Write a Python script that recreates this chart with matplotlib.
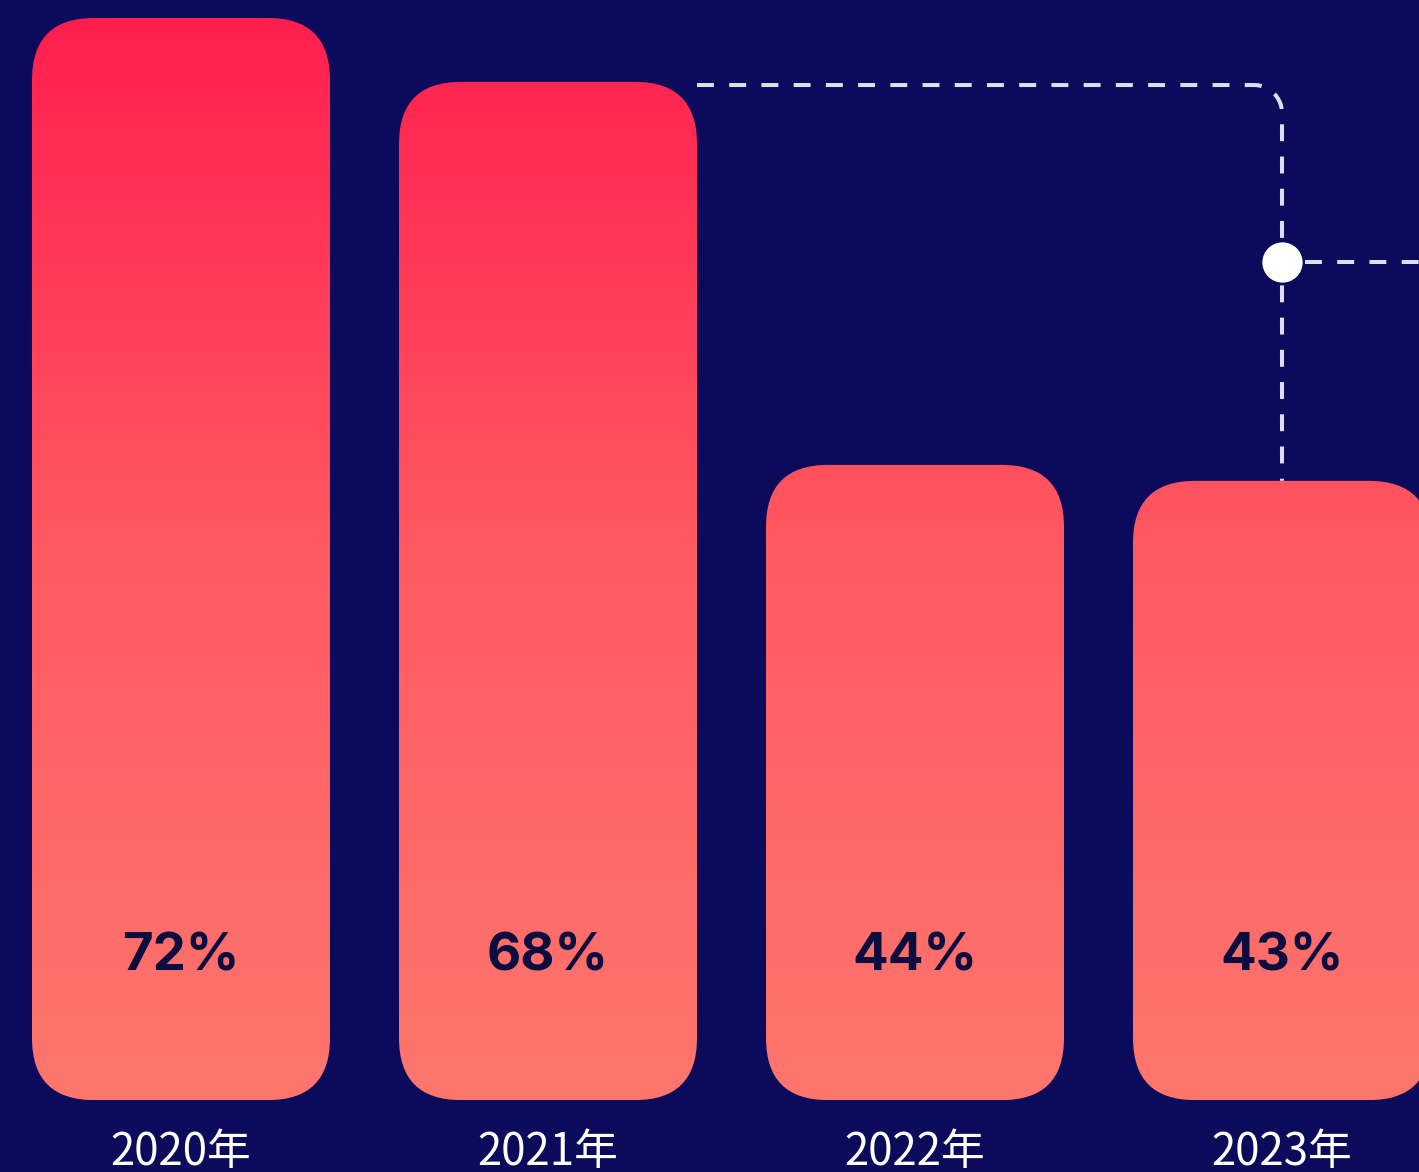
import numpy as np
import matplotlib.pyplot as plt
from matplotlib.patches import FancyBboxPatch
from matplotlib.colors import LinearSegmentedColormap

years = ['2020年', '2021年', '2022年', '2023年']
values = [72, 68, 44, 43]
labels = ['72%', '68%', '44%', '43%']

BG = '#0c0a5a'
TEXT_DARK = '#0b0c40'
DASH = '#dcdfee'

W, H, DPI = 1419, 1172, 100
base = 4.2            # value where the bars sit
px_per_unit = 15.96   # vertical scale, pixels per percentage point
px_per_cat = 367.0    # horizontal distance between bar centers
bar_w = 298 / px_per_cat
radius_px = 62        # quadratic corners read tighter than arcs, so go a bit larger

fig = plt.figure(figsize=(W / DPI, H / DPI), dpi=DPI, facecolor=BG)
ax = fig.add_axes([0, 0, 1, 1])
ax.set_facecolor(BG)
x_lo = -181 / px_per_cat
x_hi = x_lo + W / px_per_cat
y_top = max(values) + 18 / px_per_unit
ax.axis('off')

# vertical gradient shared by every bar: red at the top, salmon at the base
cmap = LinearSegmentedColormap.from_list('bar', ['#ff1f4f', '#ff5a62', '#fd766d'])
grad = np.linspace(0, 1, 256).reshape(-1, 1)
aspect = px_per_cat / px_per_unit
r = radius_px / px_per_cat

for i, (v, lab, yr) in enumerate(zip(values, labels, years)):
    patch = FancyBboxPatch((i - bar_w / 2, base), bar_w, v - base,
                           boxstyle=f'round,pad=0,rounding_size={r}',
                           mutation_aspect=aspect,
                           facecolor='none', edgecolor='none')
    ax.add_patch(patch)
    im = ax.imshow(grad, cmap=cmap, aspect='auto', interpolation='bilinear',
                   origin='upper',
                   extent=(i - bar_w / 2, i + bar_w / 2, base, max(values)),
                   zorder=1)
    im.set_clip_path(patch)
    ax.annotate(lab, xy=(i, base), xytext=(0, 130), textcoords='offset pixels',
                ha='center', va='baseline', fontsize=38, fontweight='bold',
                family=['Inter', 'DejaVu Sans'], color=TEXT_DARK, zorder=3)
    ax.annotate(yr, xy=(i, base), xytext=(0, -65), textcoords='offset pixels',
                ha='center', va='baseline', fontsize=31.5,
                family=['Noto Sans CJK SC', 'DejaVu Sans'], color='white',
                zorder=3)

ax.set_xlim(x_lo, x_hi)
ax.set_ylim(y_top - H / px_per_unit, y_top)

# dashed connector from the 2021 bar over to the 2023 bar
line_y = values[1] - 0.2
x_start = 1 + bar_w / 2
x_end = 3
cr_x = 28 / px_per_cat
cr_y = 28 / px_per_unit
t = np.linspace(np.pi / 2, 0, 20)
arc_x = (x_end - cr_x) + cr_x * np.cos(t)
arc_y = (line_y - cr_y) + cr_y * np.sin(t)
path_x = np.concatenate([[x_start], arc_x, [x_end]])
path_y = np.concatenate([[line_y], arc_y, [values[3]]])
dash_style = (0, (4.2, 3.8))
ax.plot(path_x, path_y, color=DASH, lw=2.9, linestyle=dash_style,
        dash_capstyle='butt', zorder=0.5)

marker_y = 56.7
ax.plot([x_end + 23 / px_per_cat, x_hi], [marker_y, marker_y],
        color=DASH, lw=2.9, linestyle=dash_style, dash_capstyle='butt', zorder=0.5)
ax.plot([x_end], [marker_y], 'o', ms=29, color='white', mec='none', zorder=4)

fig.savefig('out.png', dpi=DPI, facecolor=BG)
